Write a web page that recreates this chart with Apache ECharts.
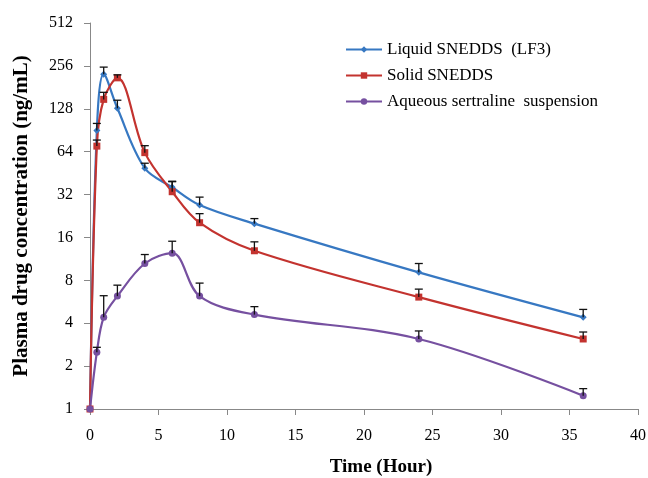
<!DOCTYPE html>
<html>
<head>
<meta charset="utf-8">
<script src="https://cdn.jsdelivr.net/npm/echarts@6/dist/echarts.min.js"></script>
<style>html,body{margin:0;padding:0;background:#fff}#c{width:648px;height:478px}</style>
</head>
<body>
<div id="c"></div>
<script>
const times = [0, 0.5, 1, 2, 4, 6, 8, 12, 24, 36];
const liquidMean = [1, 90, 224, 129, 49, 36, 27, 20, 9.1, 4.4];
const liquidSD   = [0, 11, 27, 18, 4.1, 3.7, 3.7, 1.7, 1.4, 0.6];
const solidMean  = [1, 70, 149, 211, 63, 33.5, 20.3, 12.9, 6.1, 3.1];
const solidSD    = [0, 7.2, 18, 10.5, 7.5, 5.9, 3.2, 2.0, 0.84, 0.37];
const aqueousMean = [1, 2.5, 4.4, 6.2, 10.5, 12.4, 6.2, 4.6, 3.1, 1.24];
const aqueousSD   = [0, 0.21, 1.84, 1.2, 1.64, 2.65, 1.45, 0.63, 0.43, 0.15];
const yTicks = [1, 2, 4, 8, 16, 32, 64, 128, 256, 512];
const seriesNames = ['Liquid SNEDDS  (LF3)', 'Solid SNEDDS', 'Aqueous sertraline  suspension'];
const colors = ['#3778c2', '#c3332f', '#7650a0'];

const pts = (m) => times.map((t, i) => [t, m[i]]);
const errPts = (m, s) => times.map((t, i) => [t, m[i], s[i]]).filter(d => d[2] > 0);

function renderErr(params, api) {
  const x = api.value(0), y = api.value(1), sd = api.value(2);
  const p0 = api.coord([x, y]);
  const p1 = api.coord([x, y + sd]);
  const st = { stroke: '#111', lineWidth: 1.3 };
  return { type: 'group', children: [
    { type: 'line', shape: { x1: p0[0], y1: p0[1], x2: p1[0], y2: p1[1] }, style: st },
    { type: 'line', shape: { x1: p1[0] - 4, y1: p1[1], x2: p1[0] + 4, y2: p1[1] }, style: st }
  ]};
}

const font = 'Liberation Serif';
const chart = echarts.init(document.getElementById('c'));
const lineSeries = (name, data, color, symbol, size) => ({
  name, type: 'line', data, smooth: 0.35, symbol, symbolSize: size, color,
  lineStyle: { width: 2.2, color }, itemStyle: { color }, z: 3
});
const errSeries = (data) => ({ type: 'custom', renderItem: renderErr, data, z: 4, silent: true });

chart.setOption({
  animation: false,
  grid: { left: 90, right: 10, top: 23, bottom: 69, containLabel: false, outerBoundsMode: 'none' },
  legend: {
    orient: 'vertical', left: 340, top: 36, itemGap: 9, itemWidth: 36, itemHeight: 8,
    textStyle: { fontFamily: font, fontSize: 17, color: '#000' },
    data: seriesNames
  },
  xAxis: {
    type: 'value', min: 0, max: 40, interval: 5,
    name: 'Time (Hour)', nameLocation: 'middle', nameGap: 49,
    nameTextStyle: { fontFamily: font, fontSize: 19, fontWeight: 'bold', color: '#000', padding: [0, 0, 0, 34] },
    axisLine: { lineStyle: { color: '#888' } },
    axisTick: { show: true, length: 6, lineStyle: { color: '#888' } },
    axisLabel: { fontFamily: font, fontSize: 16, color: '#000', margin: 19 },
    splitLine: { show: false }
  },
  yAxis: {
    type: 'log', logBase: 2, min: 1, max: 512, interval: 1,
    name: 'Plasma drug concentration (ng/mL)', nameLocation: 'middle', nameGap: 58,
    nameTextStyle: { fontFamily: font, fontSize: 21, fontWeight: 'bold', color: '#000' },
    axisLine: { show: true, lineStyle: { color: '#888' } },
    axisTick: { show: true, length: 6, lineStyle: { color: '#888' } },
    axisLabel: { fontFamily: font, fontSize: 16, color: '#000', margin: 17,
      formatter: v => { const r = Math.round(v); return yTicks.includes(r) ? String(r) : ''; } },
    splitLine: { show: false }
  },
  series: [
    lineSeries(seriesNames[0], pts(liquidMean), colors[0], 'diamond', 7),
    lineSeries(seriesNames[1], pts(solidMean), colors[1], 'rect', 7),
    lineSeries(seriesNames[2], pts(aqueousMean), colors[2], 'circle', 7),
    errSeries(errPts(liquidMean, liquidSD)),
    errSeries(errPts(solidMean, solidSD)),
    errSeries(errPts(aqueousMean, aqueousSD))
  ]
});
</script>
</body>
</html>
